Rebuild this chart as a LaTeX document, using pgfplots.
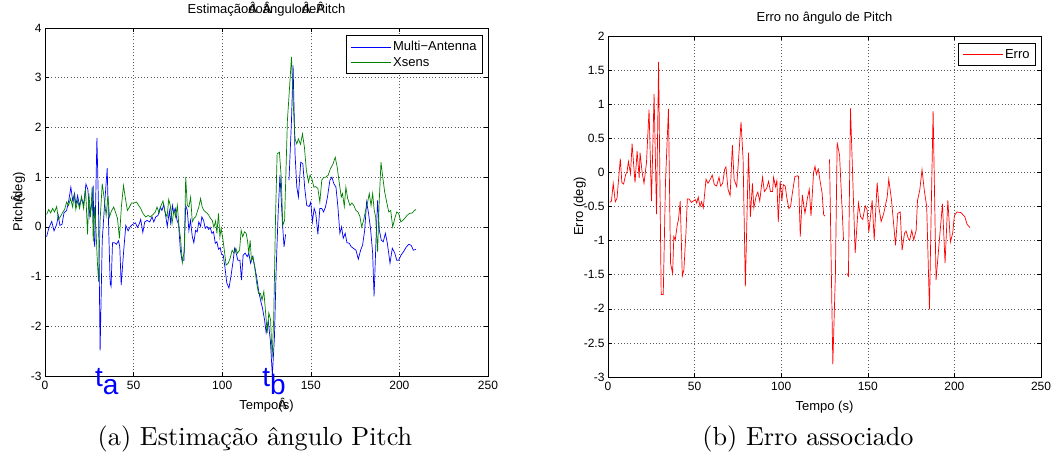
\documentclass[border=0pt]{standalone}
\usepackage{graphicx}
\usepackage{pgfplots}
\pgfplotsset{compat=1.18}
\usepackage{fontspec}
\newfontfamily\arial{Liberation Sans}
\definecolor{mgreen}{rgb}{0,0.5,0}
\begin{document}
\begin{tikzpicture}
\useasboundingbox (0pt,0pt) rectangle (1056pt,-455pt);
\pgfplotsset{
  mstyle/.style={
    scale only axis,
    font=\arial\fontsize{13}{15}\selectfont,
    tick label style={font=\arial\fontsize{12}{14}\selectfont},
    xticklabel style={yshift=-2pt},
    /pgf/number format/assume math mode=true,
    xmin=0,xmax=250, xtick={0,50,...,250},
    grid=major,
    major grid style={dash pattern=on 0.6pt off 2.6pt, black!65, line width=0.6pt},
    tick align=inside,
    major tick length=4pt,
    axis line style={line width=0.8pt},
    every tick/.style={black, line width=0.6pt},
    title style={at={(axis description cs:0.5,1)},anchor=base,yshift=9pt},
    xlabel style={at={(axis description cs:0.5,0)},anchor=base,yshift=-33pt},
    legend style={draw=black, line width=0.8pt, at={(1,1)}, anchor=north east, xshift=-5pt, yshift=-7pt, legend cell align=left, inner xsep=4pt, inner ysep=4pt, row sep=1pt, nodes={inner ysep=2pt}},
    legend image code/.code={\draw[#1] (0pt,0pt) -- (40pt,0pt);},
    unbounded coords=jump,
  }
}
\begin{axis}[mstyle, at={(45pt,-376pt)}, anchor=south west, width=443pt, height=348pt,
  ymin=-3, ymax=4, ytick={-3,...,4}, clip=false,
  ylabel style={at={(axis description cs:-0.061,0.5)},anchor=center},
  title={Estimação\rlap{Â}do\rlap{Â}ângulo\rlap{Â}de\rlap{Â}Pitch},
  xlabel={Tempo\rlap{Â}(s)}, ylabel={Pitch\rlap{Â}(deg)}]
\addplot[blue, line width=0.7pt] coordinates {(0.9,-0.2)(2.1,-0.03)(3.8,0.11)(5.1,-0.08)(6.6,0.05)(7.5,0.23)(8.4,0.03)(9.6,0.05)(10.7,0.28)(12.2,0.33)(13.5,0.55)(14.6,0.8)(15.6,0.53)(16.7,0.67)(17.4,0.43)(18.4,0.63)(19.5,0.43)(20.6,0.57)(21.8,0.45)(23.1,0.86)(24.2,0.75)(25.3,0.21)(26.5,0.49)(27.2,0.83)(27.6,-0.25)(28.1,-0.4)(29.3,1.79)(30.2,0.4)(31.1,-2.49)(32.3,-0.27)(33.4,0.33)(35.1,1.18)(36,-0.13)(36.8,-1.14)(37.3,-1.2)(38.1,-0.32)(39.2,-0.32)(40.3,-0.35)(41.5,-0.28)(42.2,-0.4)(43,-1.17)(44.3,-0.53)(45.6,0.03)(46.9,-0.08)(48.2,0.01)(49.5,0.05)(51,0.08)(52.2,-0.01)(53.3,0.07)(54,0.15)(55.2,-0.11)(56.3,0.1)(57.6,0.13)(59.1,0.1)(60.4,0.2)(61.4,0.1)(62.5,0.2)(63.8,0.23)(65.1,0.4)(66,0.33)(67,0.45)(67.9,0.27)(69,0.01)(70.2,0.32)(70.9,0.08)(71.9,0.43)(72.6,0.28)(73.5,0.37)(74.5,0.13)(75.4,0.05)(76.4,-0.47)(77.3,-0.67)(78.4,-0.67)(79.4,0.43)(80.3,0.33)(81.2,-0.07)(82.1,0.13)(83.1,-0.19)(84,-0.32)(85,-0.07)(85.9,-0.1)(86.8,0.1)(87.8,0.01)(88.5,0.2)(89.5,0.13)(90.4,-0.03)(91.4,0.01)(92.3,-0.05)(93.2,-0.01)(94.2,-0.13)(95.1,-0.1)(96.1,-0.33)(97,-0.3)(97.9,-0.45)(98.9,-0.42)(99.6,-0.55)(100.6,-0.57)(101.5,-0.8)(102.6,-1.13)(103.8,-1.23)(104.9,-1.0)(106,-0.73)(107,-0.43)(107.9,-0.53)(108.8,-0.67)(110,-0.67)(110.9,-1.07)(111.8,-0.57)(113,-0.53)(114.1,-0.6)(115,-0.53)(116,-0.73)(117.1,-0.6)(118.2,-0.77)(119.4,-1.0)(120.5,-1.27)(121.6,-1.47)(122.7,-1.63)(123.9,-1.87)(124.8,-2.13)(126,-1.9)(127.2,-2.3)(128.3,-2.99)(129.5,-2.2)(130.5,-0.8)(131.6,0.3)(132.6,1.04)(134,0.07)(134.9,-0.4)(135.8,-0.15)(136.5,nan)(137.7,0.94)(139.1,2.14)(140,3.25)(141.1,1.47)(142.1,0.8)(143,0.6)(144.3,1.3)(145.5,1.27)(146.6,0.77)(147.7,0.43)(149.1,0.41)(150,0.5)(150.9,0.1)(151.9,0.37)(152.8,0.27)(154,-0.15)(155.1,0.37)(156.2,0.37)(157.2,0.3)(158.3,0.4)(159.4,0.6)(160.8,0.94)(161.9,1.0)(163,0.87)(164.2,0.8)(165.3,0.4)(166.4,-0.13)(167.4,0)(168.3,-0.23)(169.4,-0.13)(170.4,-0.32)(171.7,-0.33)(172.8,-0.4)(174,-0.43)(175.5,-0.47)(176.8,-0.65)(178.1,-0.47)(179.2,-0.37)(180.4,-0.07)(181.5,0.5)(182.6,0.27)(183.8,-0.07)(184.9,-0.53)(185.7,-1.4)(186.8,-0.27)(187.7,0.53)(188.7,-0.07)(189.8,-0.27)(190.9,-0.3)(192.1,-0.13)(193.2,-0.33)(194.7,-0.73)(196,-0.43)(197.4,-0.53)(198.5,-0.67)(199.6,-0.67)(200.9,-0.57)(202.3,-0.5)(203.8,-0.41)(205.3,-0.35)(206.6,-0.37)(207.9,-0.47)(209.4,-0.45)};
\addlegendentry{Multi\char"2212 Antenna}
\addplot[mgreen, line width=0.7pt] coordinates {(0.9,0.25)(2.1,0.35)(3.2,0.28)(4.3,0.37)(5.4,0.3)(6.6,0.41)(7.5,0.15)(8.6,0.2)(9.8,0.28)(11.1,0.35)(12.2,0.5)(13.3,0.43)(14.4,0.57)(15.6,0.4)(16.5,0.65)(17.4,0.35)(18.4,0.53)(19.5,0.37)(20.6,0.61)(21.8,0.37)(22.9,0.77)(24,-0.15)(24.8,0.67)(25.7,0.2)(26.6,0.8)(27.2,-0.29)(28,0.4)(28.7,0)(29.5,-0.67)(30.2,-1.1)(31.1,0.13)(32.3,0.87)(33.4,0.57)(34.5,0.23)(35.5,0.63)(36.4,0.2)(37.5,0.32)(38.8,0.4)(40,0.27)(40.9,0.17)(42,-0.23)(43.1,0.4)(44.3,0.83)(45.4,0.57)(46.5,0.33)(47.7,0.4)(48.8,0.48)(50.1,0.48)(51.6,0.5)(52.9,0.43)(54,0.37)(55.3,0.27)(56.8,0.2)(58.2,0.23)(59.5,0.2)(61,0.25)(62.3,0.3)(63.2,0.4)(64.4,0.28)(65.5,0.43)(66.6,0.52)(67.7,0.3)(68.9,0.2)(69.8,0.55)(70.7,0.43)(71.7,0.07)(72.8,0.35)(73.7,0.2)(74.7,0.43)(75.6,0)(76.5,-0.23)(77.5,-0.72)(78.6,-0.47)(79.4,1.0)(80.3,0.43)(81.2,0.4)(82.2,0.6)(83.1,0.1)(84,0.17)(85,0.2)(85.9,0.3)(86.8,0.4)(87.8,0.57)(88.7,0.4)(89.7,0.33)(90.6,0.3)(91.6,0.27)(92.5,0.23)(93.4,0.17)(94.4,0.13)(95.3,-0.01)(96.3,0.12)(97,-0.13)(97.9,0.27)(98.7,-0.2)(99.4,-0.03)(100.4,-0.25)(101.3,-0.5)(102.2,-0.77)(103.4,-0.73)(104.5,-0.63)(105.6,-0.47)(106.6,-0.53)(107.7,-0.43)(108.6,-0.53)(109.8,-0.47)(110.7,-0.07)(111.6,-0.2)(112.6,-0.1)(113.5,-0.13)(114.3,-0.28)(115,-0.53)(115.8,-0.27)(116.5,-0.68)(117.4,-0.6)(118.4,-0.83)(119.5,-1.14)(120.5,-1.34)(121.6,-1.34)(122.5,-1.47)(123.5,-1.3)(124.6,-1.77)(125.4,-2.13)(126.3,-1.73)(127.3,-1.87)(128.2,-2.63)(129.1,-1.8)(130.1,0.2)(131,1.47)(132.3,1.5)(133.3,1.0)(134.2,0.03)(135.2,0.13)(136.8,2.14)(138,2.8)(139.1,3.42)(140,2.54)(141.1,1.77)(142.1,1.67)(143,1.77)(144.2,1.66)(145.3,1.87)(146.4,1.6)(147.5,1.14)(148.7,0.9)(149.6,1.04)(150.6,0.97)(151.7,0.8)(152.8,0.81)(154,0.77)(155.1,0.5)(156.2,0.94)(157.4,1.0)(158.5,1.0)(159.8,1.04)(161.1,1.17)(162.6,1.27)(163.8,1.4)(164.9,1.2)(166,0.9)(167.2,0.6)(167.9,0.67)(168.9,0.41)(169.8,0.8)(170.8,0.57)(172.1,0.43)(173.2,0.48)(174.3,0.43)(175.5,0.33)(176.6,0.3)(177.7,0.21)(178.7,0)(179.8,0.13)(180.9,0.33)(181.9,0.47)(183,0.67)(184,0.43)(184.9,0.67)(185.8,0.33)(186.6,0.2)(187.7,-0.5)(188.6,0.5)(189.6,1.3)(190.6,1.0)(191.7,0.7)(192.8,0.5)(194,0.3)(195.1,0.33)(196.2,0)(197.4,0.17)(198.5,0.3)(199.6,0.27)(200.8,0.1)(201.9,0.13)(203,0.17)(204.3,0.23)(205.7,0.27)(207.2,0.28)(208.5,0.33)(209.4,0.35)};
\addlegendentry{Xsens}
\node[anchor=base west, inner sep=0, blue, font=\arial\fontsize{28}{28}\selectfont] at (axis cs:28.2,-3.22) {t\raisebox{-8pt}{a}};
\node[anchor=base west, inner sep=0, blue, font=\arial\fontsize{28}{28}\selectfont] at (axis cs:122.5,-3.22) {t\raisebox{-8pt}{b}};
\end{axis}
\begin{axis}[mstyle, at={(608pt,-377pt)}, anchor=south west, width=433pt, height=341pt,
  ymin=-3, ymax=2, ytick={-3,-2.5,...,2},
  ylabel style={at={(axis description cs:-0.065,0.5)},anchor=center},
  title={Erro no ângulo de Pitch},
  xlabel={Tempo (s)}, ylabel={Erro (deg)}]
\addplot[red, line width=0.7pt] coordinates {(1,-0.44)(2,-0.42)(3,-0.16)(4.2,-0.43)(5.2,-0.38)(7.1,0.2)(8,-0.15)(9,-0.17)(10.2,-0.03)(11,0.01)(11.8,0.16)(13,-0.02)(13.9,0.42)(15.6,-0.15)(16.8,0.31)(18,-0.08)(18.5,0.29)(19.7,0)(20.8,-0.16)(22.2,0.14)(23.7,0.92)(25.1,-0.42)(26.6,1.15)(28,-0.61)(29.2,1.62)(30.7,-1.79)(31.9,-1.79)(33.2,-0.13)(34.9,0.93)(36.1,-1.33)(37.3,-1.48)(38,-0.94)(38.8,-0.99)(40,-0.77)(40.7,-0.69)(41.7,-0.42)(42.9,-1.52)(43.8,-1.43)(45,-0.89)(45.8,-0.39)(46.9,-0.39)(48.1,-0.44)(49.2,-0.42)(50.4,-0.40)(51.2,-0.45)(52.1,-0.36)(53.1,-0.5)(54,-0.43)(55,-0.52)(56.6,-0.1)(57.7,-0.16)(58.9,-0.11)(60.2,-0.04)(61.4,-0.18)(62.7,-0.2)(64.1,-0.07)(65,-0.2)(66.2,-0.16)(67.4,0.05)(68.1,0.08)(69.3,-0.25)(70.5,-0.34)(71.8,0.4)(72.8,-0.1)(74.3,-0.21)(75.5,0.24)(76.8,0.74)(78,0.19)(79.3,-1.67)(81.1,0.29)(82.2,-0.65)(83.4,-0.16)(84.2,-0.52)(85.5,-0.35)(86.5,-0.29)(87.6,-0.42)(89.2,-0.07)(90.3,-0.28)(91.7,-0.23)(92.7,-0.13)(93.8,-0.28)(95,-0.28)(95.6,-0.07)(96.7,-0.21)(97.5,-0.12)(98.3,-0.73)(99.4,-0.13)(100.4,-0.42)(101.2,-0.18)(102.3,-0.2)(103.3,-0.38)(104.4,-0.53)(105.4,-0.5)(106.4,-0.31)(107.9,-0.06)(109.5,-0.05)(110,-0.06)(111,-0.94)(112.2,-0.33)(113.7,-0.6)(115.1,-0.38)(116.2,-0.25)(117.2,-0.64)(118.7,0)(119.5,0.09)(120.3,-0.03)(121.4,0.05)(122.6,-0.15)(123.6,-0.3)(124.5,-0.62)(125.3,-0.64)(126.5,nan)(127.9,0.19)(129.8,-2.81)(131.3,-1.48)(132.3,0.44)(133.7,0.25)(136,-1.0)(137,nan)(137.9,-1.48)(138.8,-1.52)(140,0.94)(142.7,-1.18)(144.6,-0.45)(145.8,-0.65)(147.1,-0.69)(148.5,-0.49)(149.6,-0.55)(150.6,-0.87)(152.5,-0.41)(153.7,-0.99)(155.4,-0.15)(156.5,-0.53)(157.7,-0.72)(159.2,-0.6)(161.2,-0.36)(162.1,-0.1)(163.7,-0.41)(166,-1.07)(167.3,-0.6)(168.7,-0.58)(169.8,-1.14)(171.2,-0.89)(172.1,-0.86)(173.5,-0.98)(174.2,-0.99)(175.4,-0.85)(176.5,-0.99)(177.9,-0.85)(178.7,-0.41)(180,-0.26)(181.3,0.04)(182.7,-0.28)(184,-0.5)(185.6,-2.01)(186.5,-0.7)(187.7,0.9)(189.4,-1.58)(191,-1.09)(193.1,-0.46)(194.6,-1.33)(196.2,-0.41)(197.7,-1.02)(199,-0.89)(200,-0.63)(201.5,-0.58)(203.8,-0.59)(206,-0.65)(207.3,-0.76)(209,-0.81)};
\addlegendentry{Erro}
\end{axis}
\node[anchor=base] at (255pt,-445pt) {\scalebox{2.62}{\fontsize{10}{12}\selectfont (a) Estimação ângulo Pitch}};
\node[anchor=base] at (808pt,-445pt) {\scalebox{2.62}{\fontsize{10}{12}\selectfont (b) Erro associado}};
\end{tikzpicture}
\end{document}
